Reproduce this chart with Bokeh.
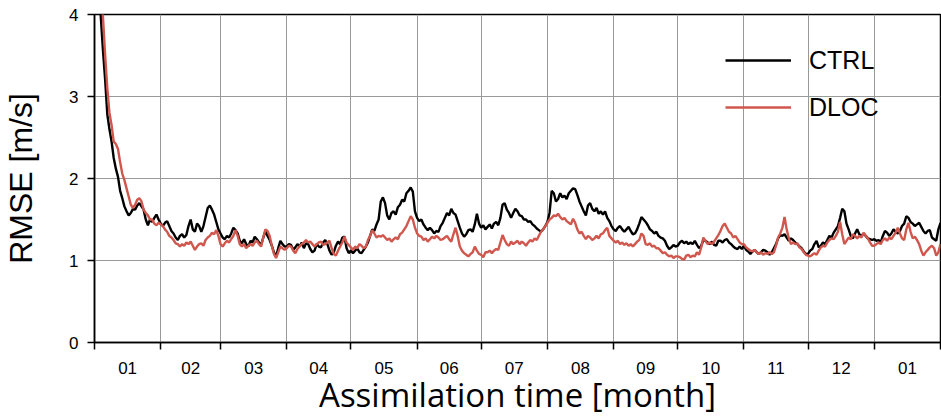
from bokeh.plotting import figure
from bokeh.models import Range1d, FixedTicker, Legend, LegendItem
from bokeh.embed import file_html
from bokeh.resources import INLINE

# Month boundaries (day index from 1 Jan) and labels
month_starts = [0, 31, 59, 90, 120, 151, 181, 212, 243, 273, 304, 334, 365, 396]
month_labels = ["01", "02", "03", "04", "05", "06", "07", "08", "09", "10", "11", "12", "01"]
y_ticks = [0, 1, 2, 3, 4]

# Daily RMSE [m/s]
ctrl_rmse = [
    # Jan
    6.5, 5.3, 4.4, 3.95, 3.55, 3.2, 2.78, 2.6, 2.45, 2.25, 2.12, 2.02, 1.85, 1.76, 1.66, 1.6,
    1.55, 1.58, 1.63, 1.62, 1.67, 1.7, 1.66, 1.62, 1.5, 1.43, 1.5, 1.47, 1.52, 1.56, 1.5,
    # Feb
    1.45, 1.42, 1.46, 1.48, 1.42, 1.36, 1.33, 1.28, 1.25, 1.3, 1.32, 1.28, 1.31, 1.42,
    1.5, 1.38, 1.35, 1.45, 1.42, 1.35, 1.42, 1.53, 1.64, 1.67, 1.62, 1.56, 1.47, 1.38,
    # Mar
    1.33, 1.28, 1.26, 1.3, 1.28, 1.33, 1.4, 1.37, 1.33, 1.24, 1.21, 1.26, 1.2, 1.17, 1.24, 1.22,
    1.29, 1.26, 1.22, 1.19, 1.28, 1.36, 1.3, 1.25, 1.18, 1.1, 1.05, 1.15, 1.24, 1.2, 1.17,
    # Apr
    1.17, 1.2, 1.19, 1.13, 1.16, 1.2, 1.17, 1.22, 1.15, 1.21, 1.2, 1.14, 1.1, 1.12, 1.2,
    1.17, 1.16, 1.22, 1.25, 1.2, 1.12, 1.07, 1.1, 1.18, 1.23, 1.2, 1.28, 1.29, 1.15, 1.09,
    # May
    1.12, 1.09, 1.12, 1.15, 1.1, 1.09, 1.13, 1.17, 1.22, 1.3, 1.38, 1.36, 1.44, 1.5, 1.72, 1.77,
    1.7, 1.55, 1.5, 1.58, 1.6, 1.56, 1.65, 1.68, 1.74, 1.72, 1.82, 1.85, 1.89, 1.84, 1.6,
    # Jun
    1.52, 1.48, 1.5, 1.44, 1.4, 1.37, 1.4, 1.37, 1.33, 1.36, 1.35, 1.42, 1.46, 1.52, 1.58,
    1.55, 1.63, 1.58, 1.56, 1.48, 1.4, 1.33, 1.29, 1.32, 1.37, 1.38, 1.35, 1.44, 1.57, 1.45,
    # Jul
    1.4, 1.43, 1.38, 1.41, 1.44, 1.39, 1.45, 1.47, 1.43, 1.52, 1.68, 1.7, 1.62, 1.58, 1.52, 1.58,
    1.63, 1.6, 1.55, 1.54, 1.5, 1.5, 1.47, 1.48, 1.44, 1.42, 1.39, 1.37, 1.35, 1.38, 1.42,
    # Aug
    1.47, 1.58, 1.85, 1.82, 1.72, 1.75, 1.82, 1.77, 1.79, 1.75, 1.82, 1.85, 1.88, 1.87, 1.8, 1.72,
    1.66, 1.6, 1.55, 1.67, 1.7, 1.63, 1.6, 1.64, 1.57, 1.6, 1.56, 1.6, 1.52, 1.48, 1.42,
    # Sep
    1.38, 1.36, 1.4, 1.42, 1.38, 1.35, 1.38, 1.41, 1.36, 1.32, 1.33, 1.38, 1.45, 1.53, 1.5,
    1.47, 1.43, 1.38, 1.36, 1.33, 1.35, 1.3, 1.28, 1.27, 1.24, 1.18, 1.14, 1.16, 1.19, 1.17,
    # Oct
    1.18, 1.22, 1.24, 1.21, 1.23, 1.2, 1.22, 1.2, 1.24, 1.19, 1.15, 1.18, 1.25, 1.24, 1.22, 1.2,
    1.23, 1.19, 1.18, 1.24, 1.24, 1.22, 1.25, 1.26, 1.22, 1.2, 1.17, 1.15, 1.14, 1.17, 1.14,
    # Nov
    1.18, 1.13, 1.11, 1.08, 1.11, 1.13, 1.1, 1.08, 1.1, 1.13, 1.12, 1.1, 1.07, 1.1, 1.15,
    1.2, 1.27, 1.31, 1.3, 1.32, 1.28, 1.24, 1.27, 1.25, 1.22, 1.2, 1.17, 1.15, 1.11, 1.08,
    # Dec
    1.08, 1.12, 1.14, 1.2, 1.24, 1.16, 1.18, 1.22, 1.2, 1.25, 1.3, 1.28, 1.34, 1.38, 1.42, 1.52,
    1.63, 1.6, 1.45, 1.38, 1.3, 1.27, 1.33, 1.38, 1.32, 1.3, 1.33, 1.3, 1.27, 1.26, 1.25,
    # Jan (next year)
    1.26, 1.24, 1.25, 1.22, 1.3, 1.36, 1.34, 1.3, 1.33, 1.38, 1.35, 1.33, 1.36, 1.42, 1.45, 1.54,
    1.52, 1.47, 1.45, 1.42, 1.44, 1.46, 1.41, 1.36, 1.33, 1.36, 1.37, 1.28, 1.26, 1.24, 1.38, 1.46,
]

dloc_rmse = [
    # Jan
    6.8, 5.7, 4.9, 4.35, 3.95, 3.5, 3.1, 2.8, 2.65, 2.45, 2.42, 2.36, 2.2, 2.06, 1.98, 1.88,
    1.78, 1.68, 1.64, 1.68, 1.74, 1.76, 1.72, 1.62, 1.58, 1.55, 1.5, 1.5, 1.45, 1.43, 1.46,
    # Feb
    1.44, 1.42, 1.38, 1.35, 1.3, 1.28, 1.25, 1.21, 1.2, 1.17, 1.2, 1.18, 1.22, 1.2,
    1.23, 1.18, 1.13, 1.17, 1.2, 1.21, 1.18, 1.25, 1.28, 1.3, 1.34, 1.32, 1.37, 1.3,
    # Mar
    1.2, 1.17, 1.21, 1.24, 1.22, 1.26, 1.3, 1.37, 1.3, 1.2, 1.17, 1.2, 1.15, 1.18, 1.2, 1.18,
    1.22, 1.24, 1.2, 1.17, 1.28, 1.38, 1.36, 1.3, 1.18, 1.08, 1.03, 1.1, 1.17, 1.15, 1.13,
    # Apr
    1.15, 1.18, 1.17, 1.12, 1.09, 1.14, 1.17, 1.2, 1.22, 1.25, 1.22, 1.23, 1.2, 1.17, 1.2,
    1.22, 1.23, 1.19, 1.2, 1.22, 1.24, 1.15, 1.08, 1.06, 1.12, 1.17, 1.22, 1.29, 1.22, 1.19,
    # May
    1.16, 1.13, 1.17, 1.15, 1.2, 1.18, 1.15, 1.17, 1.25, 1.3, 1.37, 1.33, 1.28, 1.3, 1.29, 1.31,
    1.28, 1.25, 1.27, 1.23, 1.26, 1.28, 1.26, 1.32, 1.34, 1.38, 1.42, 1.48, 1.54, 1.5, 1.4,
    # Jun
    1.33, 1.3, 1.29, 1.25, 1.27, 1.23, 1.26, 1.29, 1.27, 1.3, 1.28, 1.25, 1.26, 1.28, 1.3,
    1.26, 1.23, 1.32, 1.4, 1.3, 1.17, 1.12, 1.09, 1.07, 1.05, 1.08, 1.1, 1.17, 1.12, 1.08,
    # Jul
    1.07, 1.04, 1.1, 1.1, 1.12, 1.09, 1.12, 1.14, 1.13, 1.22, 1.31, 1.25, 1.2, 1.18, 1.23, 1.2,
    1.22, 1.24, 1.2, 1.23, 1.21, 1.18, 1.22, 1.25, 1.23, 1.27, 1.25, 1.3, 1.35, 1.38, 1.42,
    # Aug
    1.46, 1.5, 1.52, 1.55, 1.54, 1.57, 1.53, 1.5, 1.52, 1.48, 1.46, 1.44, 1.51, 1.46, 1.38, 1.33,
    1.35, 1.3, 1.26, 1.3, 1.28, 1.25, 1.27, 1.3, 1.27, 1.32, 1.33, 1.37, 1.4, 1.3, 1.27,
    # Sep
    1.24, 1.22, 1.24, 1.2, 1.22, 1.19, 1.21, 1.18, 1.2, 1.17, 1.2, 1.23, 1.25, 1.33, 1.3,
    1.2, 1.19, 1.21, 1.17, 1.18, 1.15, 1.15, 1.12, 1.09, 1.1, 1.07, 1.05, 1.06, 1.03, 1.05,
    # Oct
    1.05, 1.04, 1.02, 1.01, 1.06, 1.07, 1.04, 1.06, 1.05, 1.1, 1.07, 1.16, 1.28, 1.24, 1.2, 1.22,
    1.2, 1.23, 1.27, 1.31, 1.36, 1.42, 1.45, 1.4, 1.35, 1.33, 1.28, 1.3, 1.26, 1.22, 1.2,
    # Nov
    1.2, 1.16, 1.14, 1.12, 1.11, 1.13, 1.1, 1.08, 1.1, 1.07, 1.09, 1.08, 1.1, 1.08, 1.1,
    1.18, 1.28, 1.33, 1.4, 1.53, 1.38, 1.27, 1.2, 1.22, 1.2, 1.21, 1.16, 1.14, 1.1, 1.07,
    # Dec
    1.06, 1.05, 1.07, 1.09, 1.07, 1.12, 1.16, 1.18, 1.17, 1.22, 1.25, 1.27, 1.26, 1.3, 1.35, 1.47,
    1.32, 1.2, 1.24, 1.28, 1.26, 1.32, 1.3, 1.27, 1.3, 1.28, 1.34, 1.3, 1.27, 1.22, 1.18,
    # Jan (next year)
    1.18, 1.2, 1.22, 1.2, 1.25, 1.27, 1.24, 1.28, 1.26, 1.3, 1.34, 1.4, 1.33, 1.27, 1.25, 1.38,
    1.46, 1.35, 1.27, 1.29, 1.25, 1.2, 1.12, 1.06, 1.1, 1.13, 1.16, 1.18, 1.15, 1.06, 1.1, 1.2,
]

ctrl_days = list(range(len(ctrl_rmse)))
dloc_days = list(range(len(dloc_rmse)))

p = figure(width=941, height=419, output_backend="svg", toolbar_location=None,
           x_range=Range1d(month_starts[0], month_starts[-1]),
           y_range=Range1d(y_ticks[0], y_ticks[-1]),
           min_border_left=93, min_border_right=1, min_border_top=14, min_border_bottom=76)
p.background_fill_color = "white"
p.border_fill_color = "white"
p.outline_line_color = "black"
p.outline_line_width = 1.5

r_ctrl = p.line(ctrl_days, ctrl_rmse, line_color="black", line_width=2.4)
r_dloc = p.line(dloc_days, dloc_rmse, line_color="#d0574d", line_width=2.4)

# X axis: labels centred in months, ticks/grid at month boundaries
mids = [(a + b) / 2 for a, b in zip(month_starts[:-1], month_starts[1:])]
xax = p.xaxis[0]
xax.ticker = FixedTicker(ticks=mids, minor_ticks=month_starts)
xax.major_label_overrides = {m: lab for m, lab in zip(mids, month_labels)}
xax.major_tick_line_color = None
xax.major_tick_out = 7
xax.major_tick_in = 0
xax.minor_tick_line_color = "black"
xax.minor_tick_line_width = 1.5
xax.minor_tick_out = 7
xax.minor_tick_in = 0
xax.axis_line_color = "black"
xax.axis_line_width = 1.5
xax.major_label_text_font = "Liberation Sans"
xax.major_label_text_font_size = "17px"
xax.major_label_text_color = "black"
xax.major_label_standoff = 12
xax.axis_label = "Assimilation time [month]"
xax.axis_label_text_font = "Open Sans"
xax.axis_label_text_font_size = "33px"
xax.axis_label_text_font_style = "normal"
xax.axis_label_text_color = "black"
xax.axis_label_standoff = -5

yax = p.yaxis[0]
yax.ticker = FixedTicker(ticks=y_ticks)
yax.major_tick_line_color = "black"
yax.major_tick_line_width = 1.5
yax.major_tick_out = 7
yax.major_tick_in = 0
yax.minor_tick_line_color = None
yax.axis_line_color = "black"
yax.axis_line_width = 1.5
yax.major_label_text_font = "Liberation Sans"
yax.major_label_text_font_size = "17px"
yax.major_label_text_color = "black"
yax.major_label_standoff = 9
yax.axis_label = "RMSE [m/s]"
yax.axis_label_text_font = "Liberation Sans"
yax.axis_label_text_font_size = "32px"
yax.axis_label_text_font_style = "normal"
yax.axis_label_text_color = "black"
yax.axis_label_standoff = 27

p.xgrid[0].ticker = FixedTicker(ticks=month_starts)
p.ygrid[0].ticker = FixedTicker(ticks=y_ticks)
for g in (p.xgrid[0], p.ygrid[0]):
    g.grid_line_color = "#999999"
    g.grid_line_width = 1

legend = Legend(items=[LegendItem(label="CTRL", renderers=[r_ctrl]),
                       LegendItem(label="DLOC", renderers=[r_dloc])],
                location=(631, 220), border_line_color=None, background_fill_alpha=0,
                label_text_font="Liberation Sans", label_text_font_size="25px",
                label_text_color="black",
                glyph_width=66, glyph_height=30, label_height=30, label_standoff=18,
                spacing=17, padding=0, margin=0)
p.add_layout(legend)

open("out.html", "w").write(file_html(p, INLINE))
